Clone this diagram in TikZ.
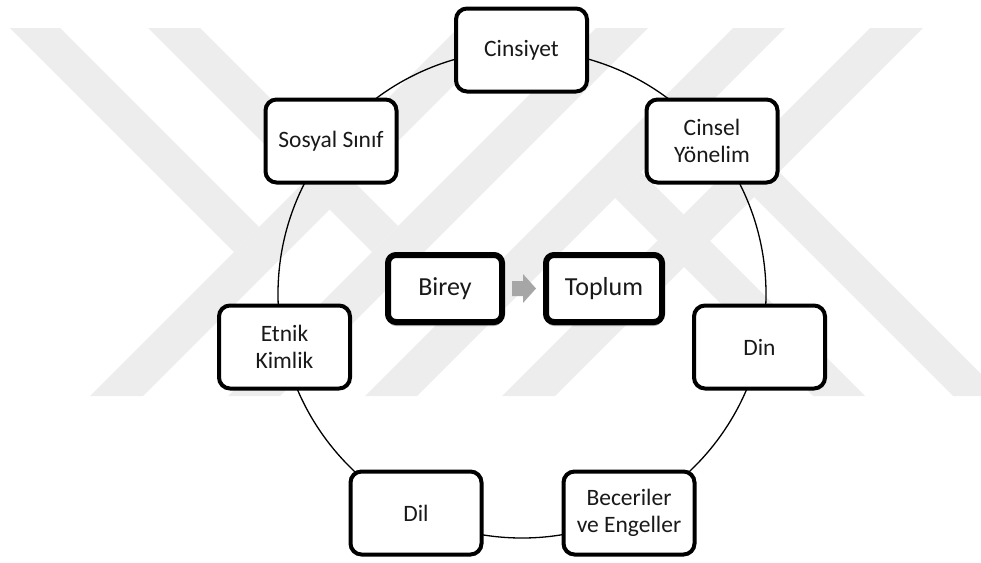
\documentclass[tikz,border=0pt]{standalone}
\usepackage{fontspec}
\setmainfont{Carlito}
\usetikzlibrary{shadows,calc}
\definecolor{wmark}{RGB}{237,237,237}
\tikzset{
  ringbox/.style={draw=black, line width=4pt, rounded corners=11pt, fill=white,
    minimum width=131pt, minimum height=83pt, align=center, inner sep=2pt,
    font=\fontsize{23.5}{27}\selectfont, text=black!90},
  corebox/.style={draw=black, line width=6pt, rounded corners=8pt, fill=white,
    minimum height=67pt, align=center, inner sep=2pt,
    font=\fontsize{26}{30}\selectfont, text=black!90,
    drop shadow={shadow xshift=0pt, shadow yshift=-4pt, opacity=0.3, fill=black}},
  ringline/.style={draw=black, line width=1.3pt},
  flowarrow/.style={fill=black!35, draw=none},
  wmband/.style={fill=wmark, draw=none}
}
\begin{document}
\begin{tikzpicture}[x=1pt, y=-1pt]
\path[use as bounding box] (0,0) rectangle (981,562);
% background watermark
\begin{scope}
\clip (0,0) rectangle (981,562);
\fill[wmband] (10,28) -- (60,28) -- (259,227) -- (234,252) -- cycle;
\fill[wmband] (148,28) -- (200,28) -- (398,226) -- (372,252) -- cycle;
\fill[wmband] (1003,396) -- (953,396) -- (754,197) -- (779,172) -- cycle;
\fill[wmband] (865,396) -- (813,396) -- (615,198) -- (641,172) -- cycle;
\fill[wmband] (90,396) -- (143,396) -- (511,28) -- (458,28) -- cycle;
\fill[wmband] (228,396) -- (280,396) -- (648,28) -- (596,28) -- cycle;
\fill[wmband] (365,396) -- (417,396) -- (785,28) -- (733,28) -- cycle;
\fill[wmband] (502,396) -- (555,396) -- (923,28) -- (870,28) -- cycle;
\end{scope}
% ring
\coordinate (ringc) at (522,294);
\draw[ringline] (ringc) circle[radius=244pt];
% ring nodes
\node[ringbox] (cinsiyet) at (521.5,50) {Cinsiyet};
\node[ringbox] (cinsel) at (712,141) {Cinsel\\Yönelim};
\node[ringbox] (din) at (759.5,347) {Din};
\node[ringbox] (beceri) at (629,513) {Beceriler\\ve Engeller};
\node[ringbox] (dil) at (416,513) {Dil};
\node[ringbox] (etnik) at (284.5,347) {Etnik\\Kimlik};
\node[ringbox] (sosyal) at (331,141) {Sosyal Sınıf};
% centre
\node[corebox, minimum width=114pt] (birey) at (445,288.5) {Birey};
\node[corebox, minimum width=116pt] (toplum) at (604,288.5) {Toplum};
\coordinate (mid) at ($(birey.east)!0.5!(toplum.west)$);
\fill[flowarrow] ($(mid)+(-12,-7.5)$) -- ($(mid)+(-1,-7.5)$) -- ($(mid)+(-1,-14.5)$)
  -- ($(mid)+(12,0)$) -- ($(mid)+(-1,14.5)$) -- ($(mid)+(-1,7.5)$) -- ($(mid)+(-12,7.5)$) -- cycle;
\end{tikzpicture}
\end{document}
